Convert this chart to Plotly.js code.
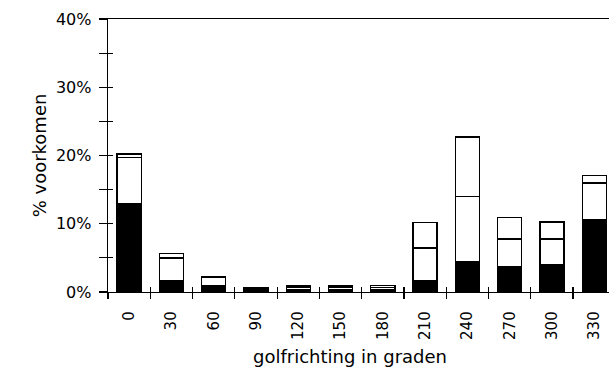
<!DOCTYPE html>
<html>
<head>
<meta charset="utf-8">
<script src="https://cdn.plot.ly/plotly-3.0.1.min.js"></script>
<style>html,body{margin:0;padding:0;background:#fff;}#chart{width:609px;height:379px;}</style>
</head>
<body>
<div id="chart"></div>
<script>
// golfrichting (graden)
const directions = ["0","30","60","90","120","150","180","210","240","270","300","330"];
// % voorkomen per segment (onder: zwart, midden: wit, boven: wit)
const bottomValues = [13.0, 1.7, 0.9, 0.6, 0.35, 0.35, 0.3, 1.7, 4.4, 3.75, 4.0, 10.6];
const middleValues = [6.75, 3.3, 1.2, 0.0, 0.4, 0.4, 0.35, 4.75, 9.6, 4.0, 3.75, 5.35];
const topValues = [0.45, 0.6, 0.1, 0.0, 0.25, 0.25, 0.3, 3.75, 8.7, 3.15, 2.5, 1.1];
const yTickVals = [0, 5, 10, 15, 20, 25, 30, 35, 40];
const yTickText = ["0%", "", "10%", "", "20%", "", "30%", "", "40%"];

const font = "DejaVu Sans";
const lineStyle = {color: "#000", width: 1.3};
const mk = (vals, fill) => ({
  type: "bar", x: directions, y: vals, width: 0.57,
  marker: {color: fill, line: lineStyle}, hoverinfo: "skip", showlegend: false
});
const ghost = (xa, ya) => ({
  type: "scatter", mode: "markers", x: directions, y: directions.map(() => 0),
  xaxis: xa, yaxis: ya, marker: {opacity: 0}, hoverinfo: "skip", showlegend: false
});
const data = [
  mk(bottomValues, "#000"),
  mk(middleValues, "#fff"),
  mk(topValues, "#fff"),
  ghost("x2", "y"),
  ghost("x", "y2")
];
const xr = [-0.5, 11.35];
const layout = {
  width: 609, height: 379,
  margin: {l: 108, r: 0, t: 19, b: 87},
  paper_bgcolor: "#fff", plot_bgcolor: "#fff",
  barmode: "stack", showlegend: false,
  font: {family: font, color: "#000", size: 15},
  xaxis: {
    type: "category", categoryarray: directions, range: xr,
    showgrid: false, zeroline: false,
    showline: true, linecolor: "#000", linewidth: 1.3, mirror: true,
    ticks: "outside", ticklen: 6, tickwidth: 1.2, tickcolor: "#000", tickson: "boundaries",
    tickangle: -90, tickfont: {family: font, size: 15, color: "#000"}, ticklabelstandoff: 12
  },
  xaxis2: {
    type: "category", categoryarray: directions, range: xr, overlaying: "x", anchor: "y",
    side: "bottom",
    showgrid: false, zeroline: false, showline: false,
    ticks: "inside", ticklen: 5, tickwidth: 1.2, tickcolor: "#000", tickson: "boundaries",
    showticklabels: false
  },
  yaxis: {
    range: [0, 40], showgrid: false, zeroline: false,
    showline: true, linecolor: "#000", linewidth: 1.3,
    tickmode: "array", tickvals: yTickVals, ticktext: yTickText,
    ticks: "outside", ticklen: 8, tickwidth: 1.2, tickcolor: "#000",
    tickfont: {family: font, size: 16, color: "#000"}, ticklabelstandoff: 4,
    title: {text: "% voorkomen", font: {family: font, size: 18, color: "#000"}, standoff: 4}
  },
  yaxis2: {
    range: [0, 40], overlaying: "y", anchor: "x", side: "left",
    showgrid: false, zeroline: false, showline: false,
    tickmode: "array", tickvals: yTickVals, ticks: "inside", ticklen: 5, tickwidth: 1.2,
    tickcolor: "#000", showticklabels: false
  },
  annotations: [{
    text: "golfrichting in graden", xref: "paper", yref: "paper",
    x: (350 - 108) / 501, y: -0.235, xanchor: "center", yanchor: "middle",
    showarrow: false, font: {family: font, size: 18, color: "#000"}
  }]
};
Plotly.newPlot("chart", data, layout, {staticPlot: true, displayModeBar: false});
</script>
</body>
</html>
